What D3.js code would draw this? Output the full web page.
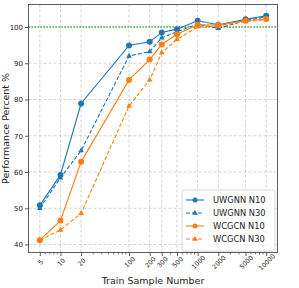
<!DOCTYPE html>
<meta charset="utf-8">
<html>
<head>
    <script src="https://cdn.jsdelivr.net/npm/d3@7"></script>
    <style>
        body { margin: 0; background: #fff; }
        text { font-family: "DejaVu Sans", sans-serif; fill: #222; }
    </style>
</head>
<body>
    <script>
    var samples = [5, 10, 20, 100, 200, 300, 500, 1000, 2000, 5000, 10000];
    var yTicks = [40, 50, 60, 70, 80, 90, 100];
    var uwgnnN10 = [50.8, 59.2, 78.9, 94.9, 95.9, 98.5, 99.4, 101.7, 100.6, 102.1, 103.1];
    var uwgnnN30 = [50.0, 58.4, 65.9, 92.0, 93.2, 97.0, 98.7, 100.8, 99.6, 101.8, 102.8];
    var wcgcnN10 = [41.2, 46.6, 62.8, 85.4, 91.0, 95.2, 98.0, 100.6, 100.5, 101.7, 102.2];
    var wcgcnN30 = [41.2, 44.0, 48.6, 78.2, 85.4, 92.9, 96.6, 100.0, 100.3, 101.5, 102.0];
    var seriesNames = ["UWGNN N10", "UWGNN N30", "WCGCN N10", "WCGCN N30"];
    var baseline = 100;

    var series = [
        { name: seriesNames[0], values: uwgnnN10, color: "#1f77b4", dash: null, marker: "circle" },
        { name: seriesNames[1], values: uwgnnN30, color: "#1f77b4", dash: "4,2", marker: "triangle" },
        { name: seriesNames[2], values: wcgcnN10, color: "#ff7f0e", dash: null, marker: "circle" },
        { name: seriesNames[3], values: wcgcnN30, color: "#ff7f0e", dash: "4,2", marker: "triangle" }
    ];

    var svg = d3.select("body")
        .append("svg")
        .attr("width", 299)
        .attr("height", 288);

    var pL = 28.5, pR = 277.5, pT = 4.5, pB = 252.5;

    var xScale = d3.scaleLog()
        .domain([5 / Math.pow(10, 0.165), 10000 * Math.pow(10, 0.165)])
        .range([pL, pR]);

    var yScale = d3.scaleLinear()
        .domain([37.8, 106.2])
        .range([pB, pT]);

    // grid
    svg.append("g").selectAll("line")
        .data(samples).enter().append("line")
        .attr("x1", function(d) { return xScale(d); })
        .attr("x2", function(d) { return xScale(d); })
        .attr("y1", pT).attr("y2", pB)
        .attr("stroke", "#b0b0b0").attr("stroke-width", 0.8)
        .attr("stroke-dasharray", "3,2").attr("opacity", 0.7);

    svg.append("g").selectAll("line")
        .data(yTicks).enter().append("line")
        .attr("y1", function(d) { return yScale(d); })
        .attr("y2", function(d) { return yScale(d); })
        .attr("x1", pL).attr("x2", pR)
        .attr("stroke", "#b0b0b0").attr("stroke-width", 0.8)
        .attr("stroke-dasharray", "3,2").attr("opacity", 0.7);

    // baseline
    svg.append("line")
        .attr("x1", pL).attr("x2", pR)
        .attr("y1", yScale(baseline)).attr("y2", yScale(baseline))
        .attr("stroke", "#2ca02c").attr("stroke-width", 1.3)
        .attr("stroke-dasharray", "1.3,1.7");

    // axes
    var xAxis = d3.axisBottom(xScale)
        .tickValues(samples)
        .tickFormat(d3.format("d"))
        .tickSize(3.5);
    var gx = svg.append("g")
        .attr("transform", "translate(0," + pB + ")")
        .call(xAxis);
    gx.select(".domain").remove();
    gx.selectAll("line").attr("stroke", "#333").attr("stroke-width", 0.8);
    gx.selectAll("text")
        .attr("font-size", 6.3)
        .attr("dy", null)
        .attr("y", 0)
        .attr("text-anchor", "middle")
        .attr("dominant-baseline", "central")
        .attr("transform", "translate(0,9.5) rotate(-45)");

    var minors = [];
    [1, 10, 100, 1000].forEach(function(b) {
        for (var k = 2; k <= 9; k++) {
            var v = b * k;
            if (v > 5 && samples.indexOf(v) < 0 && v < 10000) minors.push(v);
        }
    });
    svg.append("g").selectAll("line")
        .data(minors).enter().append("line")
        .attr("x1", function(d) { return xScale(d); })
        .attr("x2", function(d) { return xScale(d); })
        .attr("y1", pB).attr("y2", pB + 2)
        .attr("stroke", "#333").attr("stroke-width", 0.6);

    var yAxis = d3.axisLeft(yScale).tickValues(yTicks).tickSize(3.5).tickPadding(2);
    var gy = svg.append("g")
        .attr("transform", "translate(" + pL + ",0)")
        .call(yAxis);
    gy.select(".domain").remove();
    gy.selectAll("line").attr("stroke", "#333").attr("stroke-width", 0.8);
    gy.selectAll("text").attr("font-size", 7);

    svg.append("rect")
        .attr("x", pL).attr("y", pT)
        .attr("width", pR - pL).attr("height", pB - pT)
        .attr("fill", "none").attr("stroke", "#333").attr("stroke-width", 0.8);

    // lines and markers
    var line = d3.line()
        .x(function(d, i) { return xScale(samples[i]); })
        .y(function(d) { return yScale(d); });

    var tri = d3.symbol().type(d3.symbolTriangle).size(14);

    series.forEach(function(s) {
        svg.append("path")
            .attr("d", line(s.values))
            .attr("fill", "none")
            .attr("stroke", s.color)
            .attr("stroke-width", 1.1)
            .attr("stroke-dasharray", s.dash);
        if (s.marker === "circle") {
            svg.append("g").selectAll("circle")
                .data(s.values).enter().append("circle")
                .attr("cx", function(d, i) { return xScale(samples[i]); })
                .attr("cy", function(d) { return yScale(d); })
                .attr("r", 3)
                .attr("fill", s.color);
        } else {
            svg.append("g").selectAll("path")
                .data(s.values).enter().append("path")
                .attr("d", tri)
                .attr("transform", function(d, i) {
                    return "translate(" + xScale(samples[i]) + "," + yScale(d) + ")";
                })
                .attr("fill", s.color);
        }
    });

    // axis labels
    svg.append("text")
        .attr("x", 153).attr("y", 284)
        .attr("text-anchor", "middle")
        .attr("font-size", 9.5)
        .text("Train Sample Number");

    svg.append("text")
        .attr("transform", "translate(9," + ((pT + pB) / 2) + ") rotate(-90)")
        .attr("text-anchor", "middle")
        .attr("font-size", 9.5)
        .text("Performance Percent %");

    // legend
    var lg = svg.append("g").attr("transform", "translate(182,190)");
    lg.append("rect")
        .attr("width", 93).attr("height", 61).attr("rx", 2)
        .attr("fill", "#fff").attr("fill-opacity", 0.85)
        .attr("stroke", "#ccc").attr("stroke-width", 0.8);
    series.forEach(function(s, i) {
        var yy = 10 + i * 13;
        lg.append("line")
            .attr("x1", 4).attr("x2", 22).attr("y1", yy).attr("y2", yy)
            .attr("stroke", s.color).attr("stroke-width", 1.1)
            .attr("stroke-dasharray", s.dash);
        if (s.marker === "circle") {
            lg.append("circle").attr("cx", 13).attr("cy", yy).attr("r", 2.5).attr("fill", s.color);
        } else {
            lg.append("path").attr("d", tri).attr("transform", "translate(13," + yy + ")").attr("fill", s.color);
        }
        lg.append("text")
            .attr("x", 31).attr("y", yy)
            .attr("dominant-baseline", "central")
            .attr("font-size", 8.3)
            .text(s.name);
    });
    </script>
</body>
</html>
